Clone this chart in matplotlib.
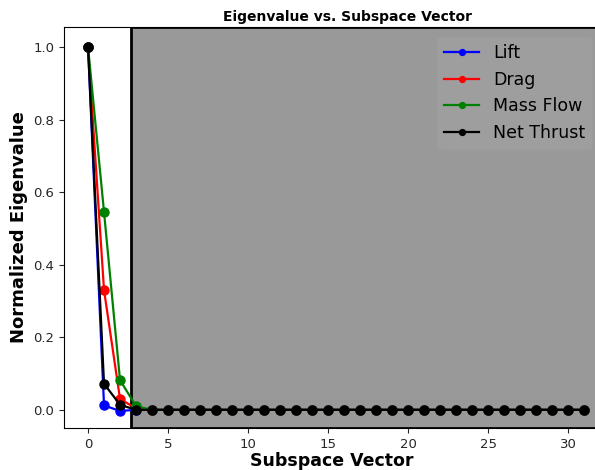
import numpy as np
import matplotlib.pyplot as plt

# normalized eigenvalues for each output, subspace vectors 0..31
n_vec = 32
vec = np.arange(n_vec)
lift = [1.0, 0.012, -0.003] + [0.0] * (n_vec - 3)
drag = [1.0, 0.33, 0.03, 0.004] + [0.0] * (n_vec - 4)
mass_flow = [1.0, 0.545, 0.082, 0.01] + [0.0] * (n_vec - 4)
net_thrust = [1.0, 0.072, 0.014, 0.0] + [0.0] * (n_vec - 4)

series = [('Lift', lift, 'b'), ('Drag', drag, 'r'),
          ('Mass Flow', mass_flow, 'g'), ('Net Thrust', net_thrust, 'k')]

fig = plt.figure(figsize=(5.95, 4.7), dpi=100)
# axes run slightly past the right edge of the figure (cropped, as in the original)
ax = fig.add_axes([0.1076, 0.0894, 0.9008, 0.8532])

# shaded region for the discarded vectors
ax.axvspan(2.7, 40, facecolor='0.6', edgecolor='k', lw=2, zorder=0)

for name, vals, c in series:
    ax.plot(vec, vals, '-o', color=c, label=name, ms=6.5, lw=1.6)

ax.set_xlim(-1.5, 32.0)
ax.set_ylim(-0.05, 1.055)
ax.set_xticks(range(0, 31, 5))
ax.tick_params(labelsize=9.5, colors='0.15')
ax.set_title('Eigenvalue vs. Subspace Vector', fontsize=10, fontweight='bold',
             pad=4, x=0.528)
ax.set_xlabel('Subspace Vector', fontsize=12.5, fontweight='bold', labelpad=1)
ax.set_ylabel('Normalized Eigenvalue', fontsize=13, fontweight='bold')
leg = ax.legend(loc='upper right', fontsize=12.5, markerscale=0.65,
                bbox_to_anchor=(592 / 595, 1 - 37 / 470),
                bbox_transform=fig.transFigure, borderaxespad=0,
                framealpha=0.05, edgecolor='0.7')

fig.savefig('out.png', dpi=100)
